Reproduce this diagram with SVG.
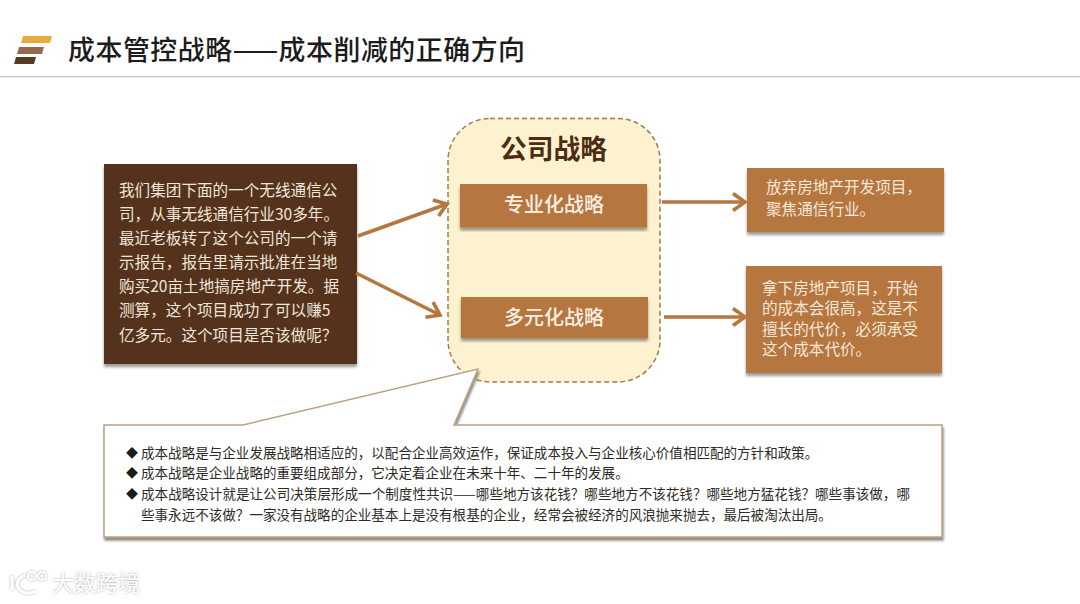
<svg xmlns="http://www.w3.org/2000/svg" width="1080" height="604" viewBox="0 0 1080 604">
<style>
text{font-family:"Noto Sans CJK SC","Noto Sans",sans-serif}
.title{font-size:26.900px;font-weight:500;fill:#1c1c1c}
.lt{font-size:15.6px;fill:#efe6da}
.rt{font-size:15.6px;fill:#f5e8d8}
.btn{font-size:20px;font-weight:500;fill:#f8efe2;text-anchor:middle}
.ct{font-size:13.55px;fill:#2e2a26}
.bl{font-size:12px;fill:#1e1a16}
.bar{fill:#b5763f}
.conn{fill:none;stroke:#b5763f;stroke-width:3.6}
</style>
<defs>
<filter id="sh" x="-5%" y="-5%" width="110%" height="115%"><feDropShadow dx="0" dy="3" stdDeviation="1.6" flood-color="#000" flood-opacity=".4"/></filter>
<filter id="sh2" x="-5%" y="-5%" width="110%" height="115%"><feDropShadow dx="1" dy="3" stdDeviation="1.2" flood-color="#3a2a18" flood-opacity=".55"/></filter>
<filter id="wm" x="-10%" y="-20%" width="120%" height="140%"><feDropShadow dx="0" dy="0" stdDeviation="1" flood-color="#777" flood-opacity=".7"/></filter>
<marker id="ah" markerUnits="userSpaceOnUse" markerWidth="22" markerHeight="24" refX="18" refY="12" orient="auto"><path d="M6 3.500L18 12L6 20.500" fill="none" stroke="#b5763f" stroke-width="3.6"/></marker>
</defs>
<rect width="1080" height="604" fill="#fff"/>
<g id="header">
<polygon points="23,36 52,36 50,43 21,43" fill="#e8ab3e"/>
<polygon points="19,47 44,47 42,54 17,54" fill="#96694a"/>
<polygon points="16,57 36,57 34,64 14,64" fill="#5a3a22"/>
<text class="title" x="68" y="60" textLength="457" lengthAdjust="spacing">成本管控战略——成本削减的正确方向</text>
<rect x="0" y="76" width="1080" height="1.500" fill="#cfcbc3"/>
</g>
<g id="node-case">
<rect x="104" y="164" width="253" height="200" fill="#55301a" filter="url(#sh)"/>
<text class="lt" x="119" y="195.500">我们集团下面的一个无线通信公</text>
<text class="lt" x="119" y="219.500">司，从事无线通信行业30多年。</text>
<text class="lt" x="119" y="243.500">最近老板转了这个公司的一个请</text>
<text class="lt" x="119" y="267.500">示报告，报告里请示批准在当地</text>
<text class="lt" x="119" y="292">购买20亩土地搞房地产开发。据</text>
<text class="lt" x="119" y="316">测算，这个项目成功了可以赚5</text>
<text class="lt" x="119" y="341">亿多元。这个项目是否该做呢？</text>
</g>
<g id="node-strategy">
<rect x="448" y="118.500" width="212" height="263.500" rx="42" fill="#fdf2d0" stroke="#a8794a" stroke-width="1.500" stroke-dasharray="5 3"/>
<text x="553.500" y="158.500" text-anchor="middle" font-size="26.800" font-weight="700" fill="#4f2b12">公司战略</text>
</g>
<g id="node-specialize">
<rect x="460" y="184" width="187" height="43.500" class="bar" filter="url(#sh)"/>
<text class="btn" x="554" y="212">专业化战略</text>
</g>
<g id="node-diversify">
<rect x="461" y="297" width="187" height="41" class="bar" filter="url(#sh)"/>
<text class="btn" x="554" y="324.500">多元化战略</text>
</g>
<g id="node-result1">
<rect x="747" y="168" width="197" height="64" class="bar" filter="url(#sh)"/>
<text class="rt" x="766" y="192.500">放弃房地产开发项目，</text>
<text class="rt" x="766" y="214.500">聚焦通信行业。</text>
</g>
<g id="node-result2">
<rect x="746" y="266" width="196" height="107" class="bar" filter="url(#sh)"/>
<text class="rt" x="762" y="293.500">拿下房地产项目，开始</text>
<text class="rt" x="762" y="313.500">的成本会很高，这是不</text>
<text class="rt" x="762" y="334.500">擅长的代价，必须承受</text>
<text class="rt" x="762" y="354.500">这个成本代价。</text>
</g>
<g id="connectors">
<line class="conn" x1="358" y1="236" x2="447" y2="204" marker-end="url(#ah)"/>
<line class="conn" x1="356" y1="273" x2="440" y2="315" marker-end="url(#ah)"/>
<line class="conn" x1="662" y1="202" x2="745" y2="202" marker-end="url(#ah)"/>
<line class="conn" x1="664" y1="317" x2="745" y2="317" marker-end="url(#ah)"/>
</g>
<g id="node-note">
<polygon points="104,425 243,425 478,369 454,425 942,425 942,537 104,537" fill="#fff" stroke="#b8a283" stroke-width="1.500" filter="url(#sh2)"/>
<text class="bl" x="126" y="457.500">◆</text>
<text class="ct" x="141" y="458">成本战略是与企业发展战略相适应的，以配合企业高效运作，保证成本投入与企业核心价值相匹配的方针和政策。</text>
<text class="bl" x="126" y="477.500">◆</text>
<text class="ct" x="141" y="478">成本战略是企业战略的重要组成部分，它决定着企业在未来十年、二十年的发展。</text>
<text class="bl" x="126" y="498.500">◆</text>
<text class="ct" x="141" y="499" textLength="769" lengthAdjust="spacing">成本战略设计就是让公司决策层形成一个制度性共识——哪些地方该花钱？哪些地方不该花钱？哪些地方猛花钱？哪些事该做，哪</text>
<text class="ct" x="141" y="520">些事永远不该做？一家没有战略的企业基本上是没有根基的企业，经常会被经济的风浪抛来抛去，最后被淘汰出局。</text>
</g>
<g id="watermark" filter="url(#wm)">
<path d="M12 576V590M26 575C17 578 15 585 20 590C24 594 31 594 35 591" fill="none" stroke="#fff" stroke-width="3"/>
<circle cx="32" cy="576" r="4" fill="none" stroke="#fff" stroke-width="2"/>
<circle cx="42" cy="576" r="4" fill="none" stroke="#fff" stroke-width="2"/>
<text x="52" y="591" font-size="22" fill="#fff">大数跨境</text>
</g>
</svg>
